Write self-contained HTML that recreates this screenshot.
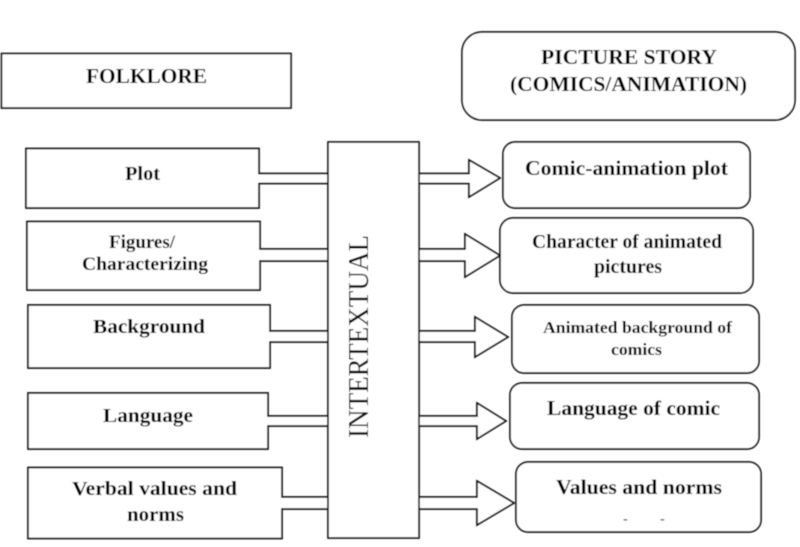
<!DOCTYPE html>
<html>
<head>
<meta charset="utf-8">
<style>
html,body{margin:0;padding:0;background:#fff;width:800px;height:547px;overflow:hidden}
svg{display:block}
text{font-family:"Liberation Serif",serif;font-weight:bold;fill:#000}
.b{fill:#fff;stroke:#111;stroke-width:1.7}
</style>
</head>
<body>
<svg width="800" height="547" viewBox="0 0 800 547" xmlns="http://www.w3.org/2000/svg">
<defs><filter id="s" x="-2%" y="-2%" width="104%" height="104%"><feGaussianBlur stdDeviation="0.4"/></filter></defs>
<rect width="800" height="547" fill="#fff"/>
<g filter="url(#s)">
<rect class="b" x="1.5" y="53.5" width="289.5" height="54.5"/>
<rect class="b" x="462" y="32" width="333" height="88" rx="20"/>

<path class="b" d="M26 148.5H259V173.5H328V183.5H259V208H26Z"/>
<path class="b" d="M27 221.5H260V249H328V261H260V290H27Z"/>
<path class="b" d="M28 305H270V331H328V342H270V368H28Z"/>
<path class="b" d="M28 393H268V416H328V426H268V449H28Z"/>
<path class="b" d="M28 467.5H282V497H328V509H282V538.5H28Z"/>

<path class="b" d="M419 173.5H469V160L500 178L469 197V183.5H419"/>
<path class="b" d="M419 249H465V234L500 255.5L465 277V261H419"/>
<path class="b" d="M419 331H475V317L508 337L475 357V342H419"/>
<path class="b" d="M419 416H477V403L506 421L477 439V426H419"/>
<path class="b" d="M419 497H477V481L514 503L477 525V509H419"/>

<rect class="b" x="328" y="142" width="91" height="396"/>

<rect class="b" x="503" y="142" width="247" height="66" rx="12"/>
<rect class="b" x="500" y="218" width="253" height="75" rx="13"/>
<rect class="b" x="512" y="305" width="247" height="68" rx="12"/>
<rect class="b" x="510" y="383" width="249" height="66" rx="12"/>
<rect class="b" x="516" y="462" width="245" height="70" rx="12"/>

<text x="86" y="83" font-size="21" textLength="121" lengthAdjust="spacingAndGlyphs">FOLKLORE</text>
<text x="541" y="64" font-size="21.5" textLength="176" lengthAdjust="spacingAndGlyphs">PICTURE STORY</text>
<text x="510" y="91" font-size="21.5" textLength="237" lengthAdjust="spacingAndGlyphs">(COMICS/ANIMATION)</text>

<text x="125" y="180" font-size="20" textLength="35" lengthAdjust="spacingAndGlyphs">Plot</text>
<text x="109" y="248" font-size="18.5" textLength="66" lengthAdjust="spacingAndGlyphs">Figures/</text>
<text x="82" y="270" font-size="18.5" textLength="126" lengthAdjust="spacingAndGlyphs">Characterizing</text>
<text x="93" y="333" font-size="20" textLength="112" lengthAdjust="spacingAndGlyphs">Background</text>
<text x="103" y="422" font-size="20" textLength="90" lengthAdjust="spacingAndGlyphs">Language</text>
<text x="72" y="495" font-size="20" textLength="165" lengthAdjust="spacingAndGlyphs">Verbal values and</text>
<text x="127" y="521" font-size="20" textLength="57" lengthAdjust="spacingAndGlyphs">norms</text>

<text x="525" y="175" font-size="21" textLength="203" lengthAdjust="spacingAndGlyphs">Comic-animation plot</text>
<text x="532" y="248" font-size="19.5" textLength="190" lengthAdjust="spacingAndGlyphs">Character of animated</text>
<text x="594" y="273" font-size="19.5" textLength="68" lengthAdjust="spacingAndGlyphs">pictures</text>
<text x="543" y="333" font-size="17" textLength="189" lengthAdjust="spacingAndGlyphs">Animated background of</text>
<text x="611" y="355" font-size="17" textLength="51" lengthAdjust="spacingAndGlyphs">comics</text>
<text x="547" y="415" font-size="21" textLength="173" lengthAdjust="spacingAndGlyphs">Language of comic</text>
<text x="556" y="494" font-size="21" textLength="166" lengthAdjust="spacingAndGlyphs">Values and norms</text>
<text x="623" y="523" font-size="14">-</text>
<text x="660" y="523" font-size="14">-</text>

<text transform="translate(368 438) rotate(-90)" font-size="29" textLength="203" lengthAdjust="spacingAndGlyphs" style="font-weight:normal">INTERTEXTUAL</text>
</g>
</svg>
</body>
</html>
